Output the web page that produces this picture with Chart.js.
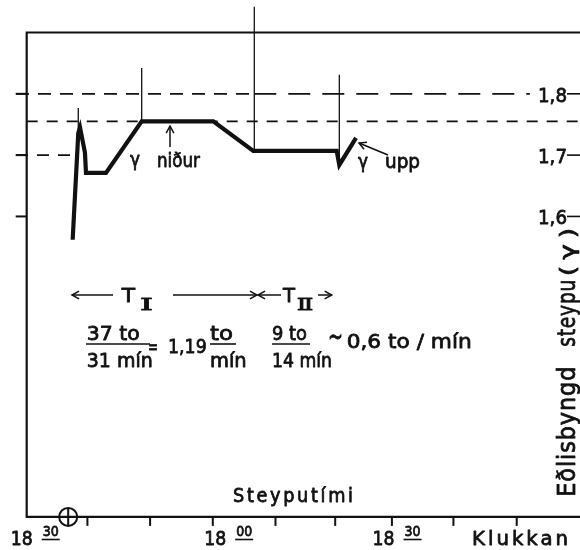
<!DOCTYPE html>
<html>
<head>
<meta charset="utf-8">
<script src="https://cdn.jsdelivr.net/npm/chart.js@4"></script>
<style>
  body { margin: 0; background: #fff; }
  #wrap { width: 580px; height: 550px; }
</style>
</head>
<body>
<div id="wrap"><canvas id="chart" width="580" height="550"></canvas></div>
<script>
// time in minutes after the first clock mark, density
const castMinutes = [6.53, 7.47, 7.76, 8.59, 8.76, 12.11, 18.09, 30.08, 36.78, 50.75, 51.19, 53.99];
const density = [1.562, 1.736, 1.745, 1.704, 1.671, 1.671, 1.755, 1.755, 1.707, 1.707, 1.684, 1.728];

// thin vertical marks on the curve
const markerMinutes = [7.47, 18.09, 36.95, 51.19];
const markerTop = [1.777, 1.842, 1.942, 1.831];
const markerBase = [1.736, 1.755, 1.707, 1.684];

// dashed reference levels
const refLevels = [1.8, 1.755, 1.7];
const refStart = [-2.96, -1.17, -2.96];
const refEnd = [83.1, 91.5, 6.4];

const xTickMinutes = [9, 19.5, 30, 40.5, 50.5, 60, 70.3, 80.9];
const xLabelAt = [-2, 30.4, 58.6];
const xLabelMain = ["18", "18", "18"];
const xLabelSup = ["30", "00", "30"];

const yTickValues = [1.8, 1.7, 1.6];
const yTickLabels = ["1,8", "1,7", "1,6"];

const frameLeft = -1.17;
const frameBottom = 1.11;
const frameTop = 1.9;

const ink = "#111";
const F = '20px "DejaVu Sans"';

function pts(xs, ys) {
  return xs.map((v, i) => ({ x: v, y: ys[i] }));
}

const datasets = [];
refLevels.forEach((lvl, i) => {
  const xs = i === 0 ? [refStart[i], markerMinutes[2], refEnd[i]] : [refStart[i], refEnd[i]];
  datasets.push({
    data: xs.map(v => ({ x: v, y: lvl })),
    borderColor: ink,
    borderWidth: 1.8,
    borderDash: i === 1 ? [11, 9] : [12, 9],
    segment: i === 0 ? { borderDash: c => (c.p0.parsed.x < markerMinutes[2] ? [13, 9] : [22, 12]) } : undefined,
  });
});
markerMinutes.forEach((m, i) => {
  datasets.push({
    data: [{ x: m, y: markerBase[i] }, { x: m, y: markerTop[i] }],
    borderColor: ink,
    borderWidth: 1.3,
  });
});
datasets.push({
  data: pts(castMinutes, density),
  borderColor: ink,
  borderWidth: 4.2,
  borderJoinStyle: "miter",
});

function line(ctx, x1, y1, x2, y2) {
  ctx.beginPath();
  ctx.moveTo(x1, y1);
  ctx.lineTo(x2, y2);
  ctx.stroke();
}

function arrow(ctx, x1, y1, x2, y2) {
  line(ctx, x1, y1, x2, y2);
  const a = Math.atan2(y2 - y1, x2 - x1);
  const h = 8, s = 0.5;
  ctx.beginPath();
  ctx.moveTo(x2 - h * Math.cos(a - s), y2 - h * Math.sin(a - s));
  ctx.lineTo(x2, y2);
  ctx.lineTo(x2 - h * Math.cos(a + s), y2 - h * Math.sin(a + s));
  ctx.stroke();
}

// text squeezed to the width it has in the drawing, a bit heavier like pen lettering
function fit(ctx, text, x, y, w, font, spacing, rot) {
  const sp = spacing || 0;
  ctx.font = font;
  ctx.letterSpacing = sp + "px";
  const m = ctx.measureText(text).width - sp;
  ctx.save();
  ctx.translate(x, y);
  if (rot) ctx.rotate(-Math.PI / 2);
  ctx.scale(w / m, 1);
  ctx.lineWidth = 0.8;
  ctx.lineJoin = "round";
  ctx.fillText(text, 0, 0);
  ctx.strokeText(text, 0, 0);
  ctx.restore();
  ctx.letterSpacing = "0px";
}

const decor = {
  id: "decor",
  beforeDatasetsDraw(chart) {
    const { ctx, scales: { x, y } } = chart;
    const W = chart.width;
    const L = x.getPixelForValue(frameLeft);
    const B = y.getPixelForValue(frameBottom);
    const T = y.getPixelForValue(frameTop);
    ctx.save();
    ctx.strokeStyle = ink;
    ctx.lineWidth = 2.2;
    ctx.beginPath();
    ctx.moveTo(W, T);
    ctx.lineTo(L, T);
    ctx.lineTo(L, B);
    ctx.lineTo(W, B);
    ctx.stroke();
    ctx.lineWidth = 2;
    xTickMinutes.forEach(m => {
      const p = x.getPixelForValue(m);
      line(ctx, p, B, p, B + 9);
    });
    yTickValues.forEach(v => {
      const p = y.getPixelForValue(v);
      line(ctx, L - 11, p, L, p);
    });
    ctx.restore();
  },
  afterDatasetsDraw(chart) {
    const { ctx, scales: { x, y } } = chart;
    const W = chart.width;
    const B = y.getPixelForValue(frameBottom);
    ctx.save();
    ctx.fillStyle = ink;
    ctx.strokeStyle = ink;
    ctx.textBaseline = "alphabetic";
    ctx.textAlign = "left";

    // right hand scale
    yTickValues.forEach((v, i) => {
      const p = y.getPixelForValue(v);
      fit(ctx, yTickLabels[i], 538, p + 8, 29, F);
      ctx.lineWidth = 1.6;
      line(ctx, 567, p, W, p);
    });

    // clock labels
    xLabelAt.forEach((m, i) => {
      const p = x.getPixelForValue(m);
      fit(ctx, xLabelMain[i], p - 11, 545, 22, F);
      fit(ctx, xLabelSup[i], p + 21, 536, 16, '14px "DejaVu Sans"');
      ctx.lineWidth = 1.6;
      line(ctx, p + 20, 539.5, p + 38, 539.5);
    });
    fit(ctx, "Klukkan", 472, 545, 96, F, 3);
    fit(ctx, "Steyputími", 233, 501.7, 120, F, 3);

    // start mark on the time axis
    ctx.lineWidth = 2;
    const c0 = x.getPixelForValue(5.78);
    ctx.beginPath();
    ctx.arc(c0, B, 9, 0, Math.PI * 2);
    ctx.stroke();
    line(ctx, c0, B - 9, c0, B + 9);

    // vertical axis title
    fit(ctx, "Eðlisbyngd", 575, 496.7, 130, '24px "DejaVu Sans"', 1, true);
    fit(ctx, "steypu", 575, 346.7, 67, '24px "DejaVu Sans"', 1, true);
    fit(ctx, "(γ)", 575, 276, 48, '22px "DejaVu Sans"', 5, true);

    // curve notes
    fit(ctx, "γ", 130, 166, 10, F);
    fit(ctx, "niður", 157, 166.7, 43, F);
    ctx.lineWidth = 1.5;
    arrow(ctx, 170, 147, 170, 126);
    fit(ctx, "γ", 358, 168, 10, F);
    fit(ctx, "upp", 385, 168, 35, F);
    ctx.lineWidth = 1.5;
    arrow(ctx, 388, 155, 359, 143);

    // casting periods
    arrow(ctx, 113, 295, 72, 295);
    fit(ctx, "T", 121.7, 302, 13.3, F);
    fit(ctx, "Ⅰ", 140, 309.5, 13, '16px "DejaVu Serif"');
    ctx.lineWidth = 1.5;
    arrow(ctx, 173, 295, 257, 295);
    arrow(ctx, 281, 295, 258, 295);
    fit(ctx, "T", 283, 302, 12, F);
    fit(ctx, "Ⅱ", 296.7, 309.5, 16.6, '16px "DejaVu Serif"');
    ctx.lineWidth = 1.5;
    arrow(ctx, 318, 295, 331.7, 295);

    // pouring rates
    fit(ctx, "37 to", 86.7, 340, 53, F);
    ctx.lineWidth = 1.6;
    line(ctx, 86, 344, 150, 344);
    fit(ctx, "31 mín", 86.7, 366.7, 66, F);
    fit(ctx, "=", 148, 353, 10, F);
    fit(ctx, "1,19", 168, 353, 38.7, F);
    fit(ctx, "to", 210, 340, 23, F);
    ctx.lineWidth = 1.6;
    line(ctx, 210, 344, 236, 344);
    fit(ctx, "mín", 210, 366.7, 36.7, F);
    fit(ctx, "9 to", 272, 340, 35, F);
    ctx.lineWidth = 1.6;
    line(ctx, 272, 344, 310, 344);
    fit(ctx, "14 mín", 272, 366.7, 60, F);
    fit(ctx, "~", 328, 346, 15, '28px "DejaVu Sans"');
    fit(ctx, "0,6 to / mín", 346.7, 348, 125, F);
    ctx.restore();
  },
};

new Chart(document.getElementById("chart"), {
  type: "scatter",
  data: { datasets: datasets.map(d => Object.assign({ showLine: true, pointRadius: 0, fill: false, clip: false }, d)) },
  options: {
    responsive: false,
    animation: false,
    layout: { padding: 0 },
    scales: {
      x: { type: "linear", min: -5.64, max: 91.5, display: false },
      y: { min: 1.056, max: 1.953, display: false },
    },
    plugins: { legend: { display: false }, tooltip: { enabled: false } },
  },
  plugins: [decor],
});
</script>
</body>
</html>
